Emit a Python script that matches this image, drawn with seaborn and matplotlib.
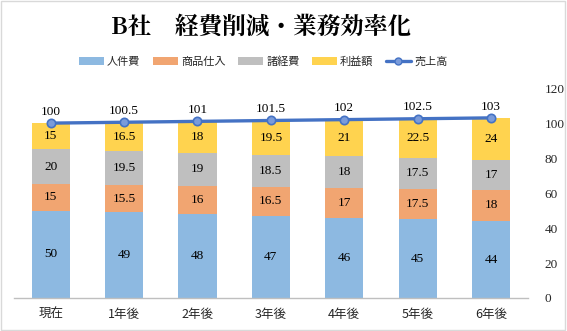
import matplotlib
matplotlib.use("Agg")
import matplotlib.pyplot as plt
import seaborn as sns
import numpy as np
import pandas as pd
from matplotlib.patches import Rectangle, Patch
from matplotlib.lines import Line2D

categories = ["現在", "1年後", "2年後", "3年後", "4年後", "5年後", "6年後"]
jinkenhi = [50, 49, 48, 47, 46, 45, 44]
shiire = [15, 15.5, 16, 16.5, 17, 17.5, 18]
shokeihi = [20, 19.5, 19, 18.5, 18, 17.5, 17]
rieki = [15, 16.5, 18, 19.5, 21, 22.5, 24]
uriage = [100, 100.5, 101, 101.5, 102, 102.5, 103]
series_names = ["人件費", "商品仕入", "諸経費", "利益額"]
series_vals = [jinkenhi, shiire, shokeihi, rieki]
colors = ["#8DB9E1", "#F1A571", "#BFBFBF", "#FFD34F"]
line_color = "#4472C4"

sns.set_theme(style="white")
plt.rcParams['font.family'] = ['Noto Sans CJK JP', 'DejaVu Sans']
serif = ['Liberation Serif', 'DejaVu Serif']

fig = plt.figure(figsize=(5.67, 3.31), dpi=100)
ax = fig.add_axes([0.0247, 0.0997, 0.906, 0.634])

cum = np.zeros(len(categories))
cums = []
for vals in series_vals:
    cum = cum + np.array(vals)
    cums.append(cum.copy())
# draw from tallest to shortest so overlap produces stacks
for i in range(len(series_vals) - 1, -1, -1):
    d = pd.DataFrame({"cat": categories, "v": cums[i]})
    sns.barplot(data=d, x="cat", y="v", color=colors[i], saturation=1,
                width=0.52, ax=ax, order=categories, linewidth=0)

# segment labels
bottom = np.zeros(len(categories))
for vals in series_vals:
    for j, v in enumerate(vals):
        ax.text(j, bottom[j] + v / 2, f"{v:g}", ha="center", va="center",
                fontsize=9.5, family=serif, color="#000000")
    bottom = bottom + np.array(vals)

xpos = np.arange(len(categories))
sns.lineplot(x=xpos, y=uriage, ax=ax, color=line_color, linewidth=2.4,
             marker="o", markersize=6, markerfacecolor="#7A9BDA",
             markeredgecolor=line_color, markeredgewidth=1.2)
for j, v in enumerate(uriage):
    ax.text(j, v + 6.5, f"{v:g}", ha="center", va="center", fontsize=9.5,
            family=serif, color="#000000")

ax.set_ylim(0, 120)
ax.set_xlim(-0.5, len(categories) - 0.5)
ax.set_xlabel("")
ax.set_ylabel("")
ax.yaxis.tick_right()
ax.set_yticks(range(0, 121, 20))
ax.set_yticklabels([str(t) for t in range(0, 121, 20)], family=serif, fontsize=9.5)
ax.tick_params(axis="y", length=0, pad=12)
ax.tick_params(axis="x", length=0, pad=7, labelsize=9)
for s in ["top", "right", "left"]:
    ax.spines[s].set_visible(False)
ax.spines["bottom"].set_color("#BFBFBF")
ax.spines["bottom"].set_linewidth(1)

fig.text(0.46, 0.918, "B社　経費削減・業務効率化", ha="center", va="center",
         fontsize=17, fontweight="bold", color="#000000",
         family=['Noto Serif CJK JP', 'Noto Sans CJK JP', 'DejaVu Serif'])

handles = [Patch(facecolor=c, edgecolor="none") for c in colors]
handles.append(Line2D([0], [0], color=line_color, linewidth=2.4, marker="o",
                      markersize=5, markerfacecolor="#7A9BDA", markeredgecolor=line_color))
fig.legend(handles, series_names + ["売上高"], loc="center", bbox_to_anchor=(0.464, 0.813),
           ncol=5, frameon=False, fontsize=8, handlelength=2.3, handleheight=0.7,
           columnspacing=1.1, handletextpad=0.25)

fig.patches.append(Rectangle((0.002, 0.003), 0.995, 0.993, transform=fig.transFigure,
                             fill=False, edgecolor="#D9D9D9", linewidth=1))

fig.savefig("out.png", dpi=100)
